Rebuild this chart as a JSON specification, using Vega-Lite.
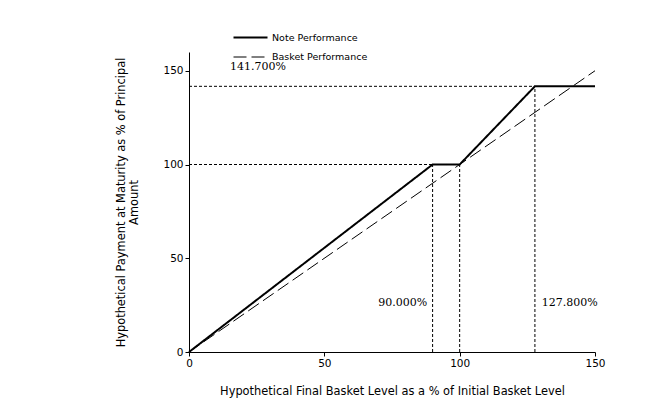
{
  "$schema": "https://vega.github.io/schema/vega-lite/v6.json",
  "width": 406,
  "height": 300,
  "autosize": "none",
  "padding": {"left": 189, "top": 52, "right": 77, "bottom": 55},
  "background": "white",
  "config": {
    "view": {"stroke": null},
    "axis": {
      "grid": false,
      "domainColor": "black",
      "tickColor": "black",
      "labelColor": "black",
      "titleColor": "black",
      "labelFont": "DejaVu Sans",
      "titleFont": "DejaVu Sans",
      "labelFontSize": 10.5,
      "titleFontSize": 11.4,
      "titleFontWeight": "normal",
      "labelFlush": false,
      "tickSize": 4
    }
  },
  "layer": [
    {
      "data": {
        "values": [
          {"series": "Note Performance", "x": 0, "y": 0, "o": 1},
          {"series": "Note Performance", "x": 90, "y": 100, "o": 2},
          {"series": "Note Performance", "x": 100, "y": 100, "o": 3},
          {"series": "Note Performance", "x": 127.8, "y": 141.7, "o": 4},
          {"series": "Note Performance", "x": 150, "y": 141.7, "o": 5},
          {"series": "Basket Performance", "x": 0, "y": 0, "o": 1},
          {"series": "Basket Performance", "x": 150, "y": 150, "o": 2}
        ]
      },
      "mark": {"type": "line", "color": "black", "clip": false},
      "encoding": {
        "x": {
          "field": "x", "type": "quantitative",
          "scale": {"domain": [0, 150], "nice": false},
          "axis": {"values": [0, 50, 100, 150], "title": "Hypothetical Final Basket Level as a % of Initial Basket Level", "titlePadding": 17}
        },
        "y": {
          "field": "y", "type": "quantitative",
          "scale": {"domain": [0, 160], "nice": false},
          "axis": {"values": [0, 50, 100, 150], "title": ["Hypothetical Payment at Maturity as % of Principal", "Amount"], "titlePadding": 23}
        },
        "order": {"field": "o"},
        "strokeDash": {
          "field": "series", "type": "nominal",
          "scale": {"domain": ["Note Performance", "Basket Performance"], "range": [[1, 0], [13, 5]]},
          "legend": {
            "title": null,
            "orient": "none",
            "legendX": 52,
            "legendY": -24,
            "symbolType": "M-2,0H2",
            "symbolSize": 289,
            "symbolStrokeColor": "black",
            "labelFont": "DejaVu Sans",
            "labelFontSize": 9.5,
            "labelColor": "black",
            "labelOffset": 12,
            "rowPadding": 6
          }
        },
        "strokeWidth": {
          "field": "series", "type": "nominal",
          "scale": {"domain": ["Note Performance", "Basket Performance"], "range": [2, 1]},
          "legend": null
        }
      }
    },
    {
      "data": {
        "values": [
          {"x": 0, "y": 141.7, "x2": 127.8, "y2": 141.7},
          {"x": 0, "y": 100, "x2": 90, "y2": 100},
          {"x": 90, "y": 0, "x2": 90, "y2": 100},
          {"x": 100, "y": 0, "x2": 100, "y2": 100},
          {"x": 127.8, "y": 0, "x2": 127.8, "y2": 141.7}
        ]
      },
      "mark": {"type": "rule", "color": "black", "strokeWidth": 1, "strokeDash": [3, 2]},
      "encoding": {
        "x": {"field": "x", "type": "quantitative"},
        "y": {"field": "y", "type": "quantitative"},
        "x2": {"field": "x2"},
        "y2": {"field": "y2"}
      }
    },
    {
      "data": {
        "values": [
          {"label": "141.700%", "x": 25.5, "y": 152},
          {"label": "90.000%", "x": 79, "y": 26},
          {"label": "127.800%", "x": 140.7, "y": 26}
        ]
      },
      "mark": {"type": "text", "font": "DejaVu Serif", "fontSize": 11, "color": "black", "align": "center", "baseline": "middle"},
      "encoding": {
        "x": {"field": "x", "type": "quantitative"},
        "y": {"field": "y", "type": "quantitative"},
        "text": {"field": "label"}
      }
    }
  ]
}
